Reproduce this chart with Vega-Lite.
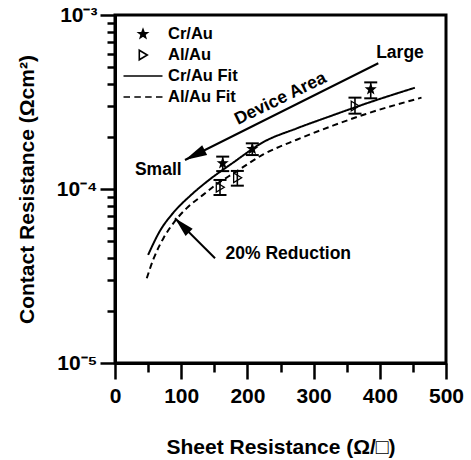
{
  "$schema": "https://vega.github.io/schema/vega-lite/v6.json",
  "autosize": {"type": "none"},
  "padding": {"left": 115, "top": 15, "right": 25, "bottom": 97},
  "width": 331,
  "height": 348,
  "background": "white",
  "datasets": {
    "pts": [
      {"series": "Cr/Au", "x": 162.7, "y": 1.406e-4, "lo": 1.267e-4, "hi": 1.535e-4},
      {"series": "Cr/Au", "x": 207.4, "y": 1.698e-4, "lo": 1.567e-4, "hi": 1.83e-4},
      {"series": "Cr/Au", "x": 386.3, "y": 3.74e-4, "lo": 3.32e-4, "hi": 4.10e-4},
      {"series": "Al/Au", "x": 158.6, "y": 1.023e-4, "lo": 9.24e-5, "hi": 1.127e-4},
      {"series": "Al/Au", "x": 184.8, "y": 1.161e-4, "lo": 1.045e-4, "hi": 1.27e-4},
      {"series": "Al/Au", "x": 362.5, "y": 3.0e-4, "lo": 2.71e-4, "hi": 3.35e-4}
    ],
    "fits": [
      {"series": "Cr/Au Fit", "x": 50, "y": 4.18e-5},
      {"series": "Cr/Au Fit", "x": 68, "y": 5.75e-5},
      {"series": "Cr/Au Fit", "x": 88, "y": 7.3e-5},
      {"series": "Cr/Au Fit", "x": 113, "y": 9.1e-5},
      {"series": "Cr/Au Fit", "x": 138.5, "y": 1.10e-4},
      {"series": "Cr/Au Fit", "x": 178.7, "y": 1.42e-4},
      {"series": "Cr/Au Fit", "x": 224, "y": 1.86e-4},
      {"series": "Cr/Au Fit", "x": 274.5, "y": 2.23e-4},
      {"series": "Cr/Au Fit", "x": 325, "y": 2.62e-4},
      {"series": "Cr/Au Fit", "x": 375, "y": 3.06e-4},
      {"series": "Cr/Au Fit", "x": 453, "y": 3.82e-4},
      {"series": "Al/Au Fit", "x": 48, "y": 3.07e-5},
      {"series": "Al/Au Fit", "x": 58, "y": 3.95e-5},
      {"series": "Al/Au Fit", "x": 73, "y": 5.2e-5},
      {"series": "Al/Au Fit", "x": 88, "y": 6.35e-5},
      {"series": "Al/Au Fit", "x": 108, "y": 7.74e-5},
      {"series": "Al/Au Fit", "x": 133, "y": 9.25e-5},
      {"series": "Al/Au Fit", "x": 154, "y": 1.07e-4},
      {"series": "Al/Au Fit", "x": 179, "y": 1.23e-4},
      {"series": "Al/Au Fit", "x": 224, "y": 1.58e-4},
      {"series": "Al/Au Fit", "x": 274.5, "y": 1.92e-4},
      {"series": "Al/Au Fit", "x": 330, "y": 2.32e-4},
      {"series": "Al/Au Fit", "x": 378, "y": 2.69e-4},
      {"series": "Al/Au Fit", "x": 463, "y": 3.35e-4}
    ],
    "arrows": [
      {"name": "area", "x": 105.7, "y": 1.468e-4, "x2": 397.7, "y2": 5.28e-4},
      {"name": "reduction", "x": 90.6, "y": 6.79e-5, "x2": 151.1, "y2": 4.0e-5}
    ],
    "notes": [
      {"text": "Large", "x": 430.5, "y": 6.01e-4},
      {"text": "Small", "x": 65.4, "y": 1.281e-4},
      {"text": "20% Reduction", "x": 261.8, "y": 4.247e-5}
    ],
    "rotnotes": [
      {"text": "Device Area", "x": 250, "y": 3.3e-4}
    ]
  },
  "resolve": {"axis": {"x": "independent", "y": "independent"}},
  "layer": [
    {
      "encoding": {
        "x": {
          "field": "x", "type": "quantitative",
          "scale": {"domain": [0, 500], "nice": false, "zero": false},
          "axis": {
            "orient": "bottom",
            "title": "Sheet Resistance (Ω/□)",
            "values": [0, 100, 200, 300, 400, 500],
            "tickSize": 16,
            "labelPadding": 6,
            "labelFlush": false,
            "labelOverlap": false,
            "titlePadding": 30
          }
        },
        "y": {
          "field": "y", "type": "quantitative",
          "scale": {"type": "log", "domain": [1e-5, 1e-3], "nice": false},
          "axis": {
            "orient": "left",
            "title": "Contact Resistance (Ωcm²)",
            "values": [1e-5, 1e-4, 1e-3],
            "labelExpr": "round(log(datum.value)/LN10) == -3 ? '10⁻³' : (round(log(datum.value)/LN10) == -4 ? '10⁻⁴' : '10⁻⁵')",
            "tickSize": 15,
            "labelPadding": 3,
            "labelFlush": false,
            "labelOverlap": false,
            "titlePadding": 19
          }
        }
      },
      "layer": [
        {
          "data": {"name": "fits"},
          "mark": {"type": "line", "color": "black", "strokeWidth": 2, "interpolate": "monotone"},
          "encoding": {
            "strokeDash": {
              "field": "series", "type": "nominal",
              "scale": {"domain": ["Cr/Au Fit", "Al/Au Fit"], "range": [[1, 0], [6, 4]]},
              "legend": null
            }
          }
        },
        {
          "data": {"name": "pts"},
          "mark": {"type": "rule", "color": "black", "strokeWidth": 1.6},
          "encoding": {
            "y": {"field": "lo", "type": "quantitative"},
            "y2": {"field": "hi"}
          }
        },
        {
          "data": {"name": "pts"},
          "mark": {"type": "tick", "orient": "horizontal", "color": "black", "size": 13, "thickness": 2, "opacity": 1},
          "encoding": {
            "y": {"field": "lo", "type": "quantitative"}
          }
        },
        {
          "data": {"name": "pts"},
          "mark": {"type": "tick", "orient": "horizontal", "color": "black", "size": 13, "thickness": 2, "opacity": 1},
          "encoding": {
            "y": {"field": "hi", "type": "quantitative"}
          }
        },
        {
          "data": {"name": "pts"},
          "mark": {"type": "point", "filled": true, "size": 380, "strokeWidth": 1.3, "opacity": 1},
          "encoding": {
            "shape": {
              "field": "series", "type": "nominal",
              "scale": {
                "domain": ["Cr/Au", "Al/Au", "Cr/Au Fit", "Al/Au Fit"],
                "range": [
                  "M0,-0.46L0.112,-0.154L0.438,-0.142L0.181,0.059L0.27,0.372L0,0.19L-0.27,0.372L-0.181,0.059L-0.438,-0.142L-0.112,-0.154Z",
                  "M-0.38,-0.49L0.44,0L-0.38,0.49Z",
                  "M-2,0L2,0",
                  "M-2,0H-1.33M-0.89,0H-0.22M0.22,0H0.89M1.33,0H2"
                ]
              },
              "legend": {
                "orient": "none", "legendX": 17, "legendY": 8, "title": null, "padding": 0,
                "labelFont": "Liberation Sans", "labelFontWeight": "bold", "labelFontSize": 16.5, "labelColor": "black",
                "labelOffset": 14, "symbolSize": 380, "symbolStrokeWidth": 1.6, "symbolStrokeColor": "black", "rowPadding": 1
              }
            },
            "fill": {
              "field": "series", "type": "nominal",
              "scale": {
                "domain": ["Cr/Au", "Al/Au", "Cr/Au Fit", "Al/Au Fit"],
                "range": ["black", "transparent", "transparent", "transparent"]
              },
              "legend": {
                "orient": "none", "legendX": 17, "legendY": 8, "title": null, "padding": 0,
                "labelFont": "Liberation Sans", "labelFontWeight": "bold", "labelFontSize": 16.5, "labelColor": "black",
                "labelOffset": 14, "symbolSize": 380, "symbolStrokeWidth": 1.6, "symbolStrokeColor": "black", "rowPadding": 1
              }
            },
            "stroke": {
              "field": "series", "type": "nominal",
              "scale": {
                "domain": ["Cr/Au", "Al/Au", "Cr/Au Fit", "Al/Au Fit"],
                "range": ["black", "black", "black", "black"]
              },
              "legend": {
                "orient": "none", "legendX": 17, "legendY": 8, "title": null, "padding": 0,
                "labelFont": "Liberation Sans", "labelFontWeight": "bold", "labelFontSize": 16.5, "labelColor": "black",
                "labelOffset": 14, "symbolSize": 380, "symbolStrokeWidth": 1.6, "symbolStrokeColor": "black", "rowPadding": 1
              }
            }
          }
        },
        {
          "data": {"name": "arrows"},
          "mark": {"type": "rule", "color": "black", "strokeWidth": 2},
          "encoding": {
            "x2": {"field": "x2"},
            "y2": {"field": "y2"}
          }
        },
        {
          "data": {"name": "arrows"},
          "transform": [{"filter": "datum.name == 'area'"}],
          "mark": {"type": "point", "filled": true, "color": "black", "opacity": 1, "size": 484, "angle": 153.4, "shape": "M0,0L-2,-0.5L-2,0.5Z"},
          "encoding": {}
        },
        {
          "data": {"name": "arrows"},
          "transform": [{"filter": "datum.name == 'reduction'"}],
          "mark": {"type": "point", "filled": true, "color": "black", "opacity": 1, "size": 400, "angle": 225, "shape": "M0,0L-2,-0.5L-2,0.5Z"},
          "encoding": {}
        },
        {
          "data": {"name": "notes"},
          "mark": {"type": "text", "font": "Liberation Sans", "fontWeight": "bold", "fontSize": 17.5, "color": "black", "align": "center", "baseline": "middle"},
          "encoding": {"text": {"field": "text"}}
        },
        {
          "data": {"name": "rotnotes"},
          "mark": {"type": "text", "font": "Liberation Sans", "fontWeight": "bold", "fontSize": 17.5, "color": "black", "align": "center", "baseline": "middle", "angle": 334},
          "encoding": {"text": {"field": "text"}}
        }
      ]
    },
    {
      "data": {"name": "fits"},
      "mark": {"type": "point", "opacity": 0, "size": 1},
      "encoding": {
        "x": {
          "field": "x", "type": "quantitative",
          "scale": {"domain": [0, 500], "nice": false, "zero": false},
          "axis": {
            "orient": "bottom", "title": null, "labels": false, "domain": false,
            "values": [50, 150, 250, 350, 450], "tickSize": 9
          }
        },
        "y": {
          "field": "y", "type": "quantitative",
          "scale": {"type": "log", "domain": [1e-5, 1e-3], "nice": false},
          "axis": {
            "orient": "left", "title": null, "labels": false, "domain": false,
            "values": [2e-5, 3e-5, 4e-5, 5e-5, 6e-5, 7e-5, 8e-5, 9e-5, 2e-4, 3e-4, 4e-4, 5e-4, 6e-4, 7e-4, 8e-4, 9e-4], "tickSize": 8
          }
        }
      }
    }
  ],
  "config": {
    "view": {"stroke": "black", "strokeWidth": 3},
    "font": "Liberation Sans",
    "axis": {
      "grid": false,
      "domainColor": "black", "domainWidth": 3,
      "tickColor": "black", "tickWidth": 2.5,
      "labelFont": "Liberation Sans", "labelFontWeight": "bold", "labelFontSize": 21, "labelColor": "black",
      "titleFont": "Liberation Sans", "titleFontWeight": "bold", "titleFontSize": 21, "titleColor": "black"
    }
  }
}
